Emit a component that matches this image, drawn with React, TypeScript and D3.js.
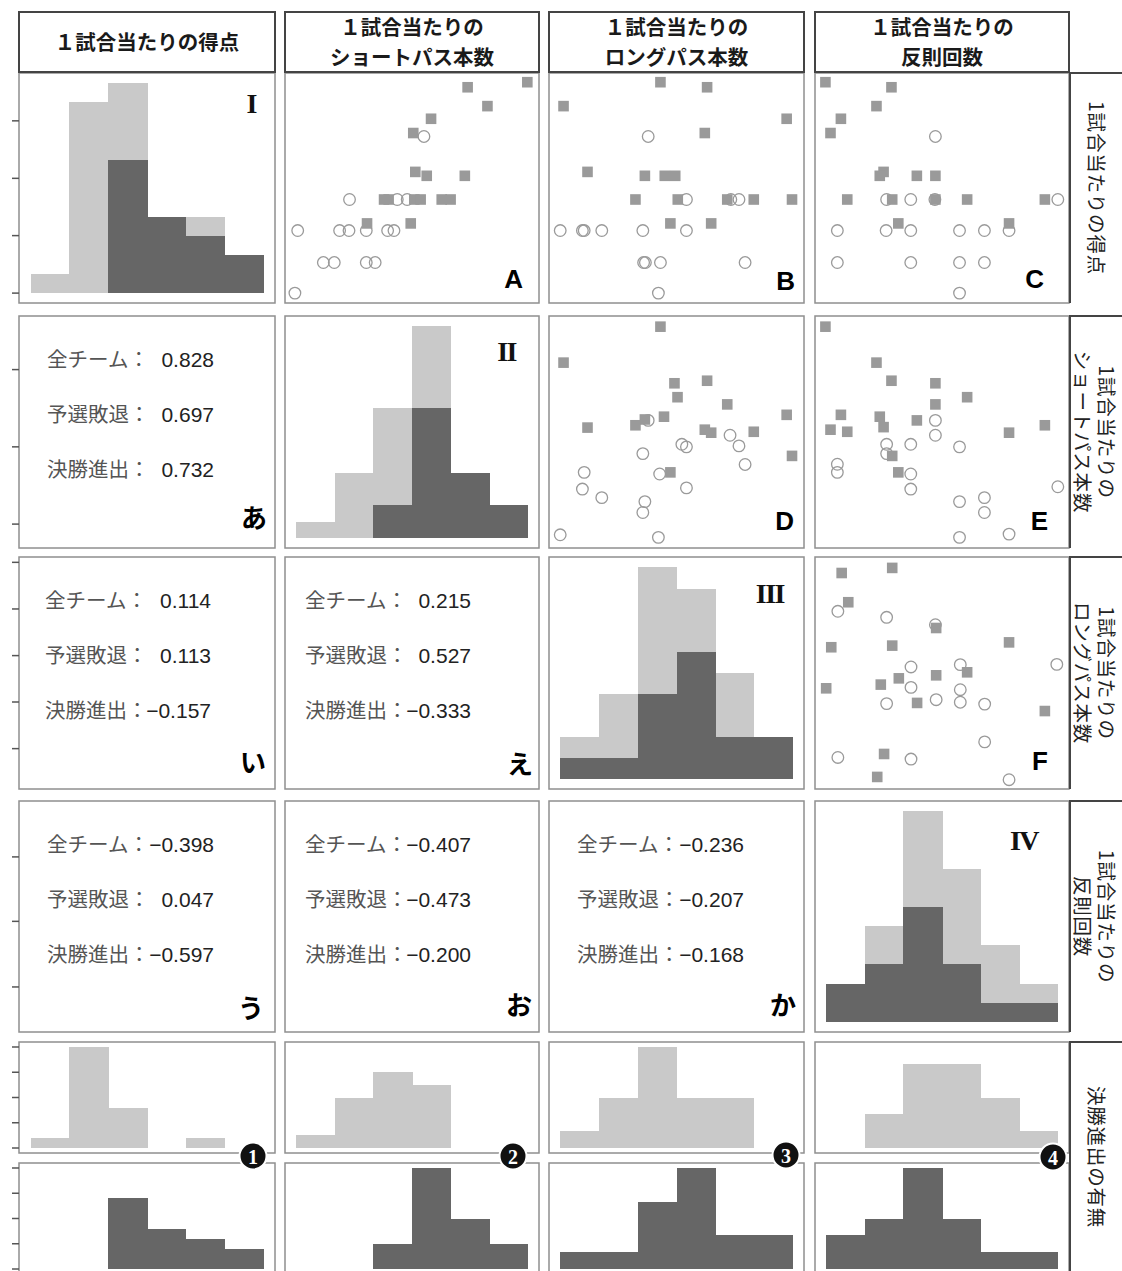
import React, { useEffect, useRef } from "react";
import * as d3 from "d3";

// ---- values ----
const headerLabels = [
  ["１試合当たりの得点"],
  ["１試合当たりの", "ショートパス本数"],
  ["１試合当たりの", "ロングパス本数"],
  ["１試合当たりの", "反則回数"],
];
const rowLabels = [
  ["1試合当たりの得点"],
  ["1試合当たりの", "ショートパス本数"],
  ["1試合当たりの", "ロングパス本数"],
  ["1試合当たりの", "反則回数"],
  ["決勝進出の有無"],
];
const romanLabels = ["I", "II", "III", "IV"];
const scatterLetters = ["A", "B", "C", "D", "E", "F"];
const corrLetters = ["あ", "い", "え", "う", "お", "か"];
const circledLabels = ["1", "2", "3", "4"];
const groupLabels = ["全チーム", "予選敗退", "決勝進出"];

// correlation: [all teams, eliminated, finals]
const corrValues = [
  [0.828, 0.697, 0.732],
  [0.114, 0.113, -0.157],
  [0.215, 0.527, -0.333],
  [-0.398, 0.047, -0.597],
  [-0.407, -0.473, -0.2],
  [-0.236, -0.207, -0.168],
];

// histogram counts per variable, 6 bins
const finalsCounts = [
  [0, 0, 7, 4, 3, 2],
  [0, 0, 2, 8, 4, 2],
  [1, 1, 4, 6, 2, 2],
  [2, 3, 6, 3, 1, 1],
];
const prelimCounts = [
  [1, 10, 4, 0, 1, 0],
  [1, 4, 6, 5, 0, 0],
  [1, 3, 6, 3, 3, 0],
  [0, 2, 5, 5, 3, 1],
];
const countTicks = [0, 2.5, 5, 7.5, 10];
// left ticks of rows 1-4, in % of the plotted range
const rowTicks = [
  [4.3, 29.3, 54.2, 79.2],
  [10.3, 43.6, 76.9],
  [17.4, 37.5, 57.5, 77.6, 97.7],
  [19.5, 47.9, 75.8],
];

// scatter points [x, y] in % of each variable's plotted range
const aFinals = [[95.4, 96], [71.9, 93.8], [79.7, 85.6], [57.5, 80.1], [50.5, 73.9], [51.3, 57], [55.8, 55.3], [70.8, 55.3], [39, 45], [40.8, 45], [50.9, 45], [53.4, 45], [61.7, 45], [65.2, 45], [32.3, 34.6], [49.5, 34.6]];
const aPrelim = [[54.7, 72.4], [25.4, 45], [44.2, 45], [48.1, 45], [5, 31.5], [21.5, 31.5], [25.2, 31.5], [32, 31.5], [40.4, 31.5], [42.9, 31.5], [15.1, 17.6], [19.4, 17.6], [32, 17.6], [35.5, 17.6], [3.9, 4.3]];
const bFinals = [[43.7, 96], [62, 93.8], [5.7, 85.6], [93.2, 80.1], [61.1, 73.9], [15.1, 57], [37.6, 55.3], [45.4, 55.3], [49.5, 55.3], [33.9, 45], [50.5, 45], [69.9, 45], [80.3, 45], [95.3, 45], [47.6, 34.6], [63.6, 34.6]];
const bPrelim = [[38.9, 72.4], [53.9, 45], [71.3, 45], [74.5, 45], [4.4, 31.5], [13.1, 31.5], [13.8, 31.5], [20.7, 31.5], [36.8, 31.5], [53.9, 31.5], [37.1, 17.6], [37.8, 17.6], [43.7, 17.6], [76.9, 17.6], [42.9, 4.3]];
const cFinals = [[4.1, 96], [30.1, 93.8], [24.2, 85.6], [10.2, 80.1], [6.1, 73.9], [27, 57], [25.5, 55.3], [40.1, 55.3], [47.4, 55.3], [12.7, 45], [30.4, 45], [47.4, 45], [59.9, 45], [90.5, 45], [32.8, 34.6], [76.4, 34.6]];
const cPrelim = [[47.4, 72.4], [28.2, 45], [37.7, 45], [47.2, 45], [95.6, 45], [8.8, 31.5], [28, 31.5], [37.7, 31.5], [56.9, 31.5], [66.7, 31.5], [76.4, 31.5], [8.8, 17.6], [37.7, 17.6], [56.9, 17.6], [66.7, 17.6], [56.9, 4.3]];
const dFinals = [[43.7, 95.4], [5.7, 79.9], [49.2, 71], [62, 72.1], [50.4, 65], [69.9, 61.9], [93.2, 57.4], [45.1, 56.6], [37.6, 55.4], [33.9, 52.9], [15.1, 51.9], [61.1, 51], [63.6, 49.7], [80.3, 50.1], [95.3, 39.7], [47.6, 32.6]];
const dPrelim = [[38.9, 55], [52.1, 44.7], [53.9, 43.6], [71, 48.6], [74.5, 44], [36.8, 40.7], [76.9, 36], [13.8, 32.6], [43.4, 31.9], [13.1, 25.4], [20.7, 21.7], [53.9, 25.9], [37.6, 20], [36.8, 15.3], [4.4, 5.7], [42.9, 4.6]];
const eFinals = [[4.1, 95.4], [24.2, 79.9], [30.1, 72.1], [47.4, 71], [59.9, 65], [47.4, 61.9], [10.2, 57.4], [25.5, 56.6], [40.1, 55], [27, 52.1], [6.1, 51], [12.7, 50.1], [90.5, 52.9], [76.4, 49.7], [30.4, 39.7], [32.8, 32.6]];
const ePrelim = [[47.4, 55], [47.4, 48.6], [28.2, 44.7], [37.7, 44.7], [56.9, 43.6], [28.2, 40.7], [8.8, 36.1], [8.8, 32.6], [37.7, 31.9], [37.7, 25.4], [95.6, 26.4], [66.7, 21.7], [56.9, 20], [66.7, 15.3], [56.9, 4.6], [76.4, 6]];
const fFinals = [[30.4, 95.3], [10.5, 93.1], [13.1, 80.5], [47.7, 69.4], [6.4, 61.1], [30.4, 61.8], [76.4, 63.2], [59.9, 50.3], [33, 47.7], [47.7, 49], [25.9, 45], [4.4, 43.4], [40.2, 37.1], [90.5, 33.6], [27.2, 15.1], [24.5, 5.2]];
const fPrelim = [[9, 76.6], [28.2, 74], [47.4, 70.8], [57.2, 53.6], [37.8, 52.6], [95.2, 53.7], [37.8, 43.8], [57.2, 42.8], [28.2, 36.8], [47.7, 38.5], [57.2, 37.4], [66.8, 36.6], [66.8, 20.3], [9, 13.6], [37.8, 12.9], [76.4, 4]];

// ---- layout ----
const W = 1122;
const H = 1271;
const colX = [[19, 275], [285, 539], [549, 804], [815, 1069]];
const rowY = [[73, 303], [316, 548], [557, 789], [801, 1032], [1042, 1153], [1163, 1274]];
const scatterCells = [[0, 1], [0, 2], [0, 3], [1, 2], [1, 3], [2, 3]];
const scatterPos = [[523, 288], [795, 290], [1044, 288], [794, 530], [1048, 530], [1048, 770]];
const corrCells = [[1, 0], [2, 0], [2, 1], [3, 0], [3, 1], [3, 2]];
const corrOffsets = [[28, 195], [26, 192], [20, 186], [28, 195], [20, 186], [28, 195]];
const corrLetterPos = [[267, 528], [266, 772], [533, 774], [264, 1018], [532, 1015], [796, 1015]];
const romanPos = [[256, 113], [516, 361], [784, 603], [1038, 850]];
const circledPos = [[253, 1156], [513, 1156], [786, 1155], [1053, 1157]];

const LIGHT = "#c9c9c9";
const DARK = "#666666";
const POINT = "#9a9a9a";

const App = () => {
  const svgRef = useRef(null);

  useEffect(() => {
    const svg = d3.select(svgRef.current);
    svg.selectAll("*").remove();

    const jp = '"Noto Sans CJK JP", sans-serif';
    const latin = '"Liberation Sans", Arial, sans-serif';
    const serif = '"Liberation Serif", "DejaVu Serif", serif';

    // percent scales for one cell
    const cellScales = (r, c) => {
      const [x0, x1] = colX[c];
      const [y0, y1] = rowY[r];
      return {
        x: d3.scaleLinear().domain([0, 100]).range([x0, x1]),
        y: d3.scaleLinear().domain([0, 100]).range([y1, y0]),
      };
    };
    const binScale = (c) => {
      const [x0, x1] = colX[c];
      const pad = (x1 - x0) * 0.045;
      return d3.scaleLinear().domain([0, 6]).range([x0 + pad, x1 - pad]);
    };

    // panel frames
    for (let r = 0; r < rowY.length; r++) {
      for (let c = 0; c < colX.length; c++) {
        svg.append("rect")
          .attr("x", colX[c][0]).attr("y", rowY[r][0])
          .attr("width", colX[c][1] - colX[c][0])
          .attr("height", rowY[r][1] - rowY[r][0])
          .attr("fill", "#fff")
          .attr("stroke", "#8f8f8f")
          .attr("stroke-width", 1.5);
      }
    }

    // column headers
    headerLabels.forEach((lines, c) => {
      const [x0, x1] = colX[c];
      svg.append("rect")
        .attr("x", x0).attr("y", 12).attr("width", x1 - x0).attr("height", 60)
        .attr("fill", "none").attr("stroke", "#444").attr("stroke-width", 2);
      const ys = lines.length === 1 ? [50] : [35, 65];
      lines.forEach((t, i) => {
        svg.append("text")
          .attr("x", (x0 + x1) / 2).attr("y", ys[i])
          .attr("text-anchor", "middle")
          .attr("font-family", jp).attr("font-weight", 700)
          .attr("font-size", 20.5).attr("fill", "#1a1a1a")
          .text(t);
      });
    });

    // right-hand row labels
    rowLabels.forEach((lines, r) => {
      const top = rowY[r][0];
      const bottom = r === 4 ? H : rowY[r][1];
      svg.append("path")
        .attr("d", `M${W},${top}H1070V${bottom}`)
        .attr("fill", "none").attr("stroke", "#444").attr("stroke-width", 2);
      const cy = r === 4 ? 1157 : (rowY[r][0] + rowY[r][1]) / 2;
      const xs = lines.length === 1 ? [1097] : [1107, 1083];
      lines.forEach((t, i) => {
        svg.append("text")
          .attr("transform", `translate(${xs[i]},${cy}) rotate(90)`)
          .attr("text-anchor", "middle")
          .attr("dominant-baseline", "central")
          .attr("font-family", jp).attr("font-size", 19.5)
          .attr("letter-spacing", 0.8)
          .attr("fill", "#222")
          .text(t);
      });
    });

    // left ticks
    rowTicks.forEach((ticks, r) => {
      const { y } = cellScales(r, 0);
      ticks.forEach((t) => {
        svg.append("line")
          .attr("x1", 12).attr("x2", 19).attr("y1", y(t)).attr("y2", y(t))
          .attr("stroke", "#555").attr("stroke-width", 1.5);
      });
    });
    [4, 5].forEach((r) => {
      const [y0, y1] = rowY[r];
      const h = y1 - y0;
      const maxC = d3.max([...finalsCounts[0], ...prelimCounts[0]]);
      const y = d3.scaleLinear().domain([0, maxC]).range([y1 - h * 0.045, y0 + h * 0.045]);
      countTicks.forEach((t) => {
        svg.append("line")
          .attr("x1", 12).attr("x2", 19).attr("y1", y(t)).attr("y2", y(t))
          .attr("stroke", "#555").attr("stroke-width", 1.5);
      });
    });

    // diagonal histograms (total light, finals dark)
    finalsCounts.forEach((fin, i) => {
      const total = fin.map((v, k) => v + prelimCounts[i][k]);
      const [y0, y1] = rowY[i];
      const h = y1 - y0;
      const x = binScale(i);
      const y = d3.scaleLinear().domain([0, d3.max(total)]).range([y1 - h * 0.044, y0 + h * 0.045]);
      const g = svg.append("g").attr("shape-rendering", "crispEdges");
      [[total, LIGHT], [fin, DARK]].forEach(([vals, col]) => {
        g.selectAll(null)
          .data(vals)
          .join("rect")
          .attr("x", (d, k) => x(k))
          .attr("width", x(1) - x(0) + 0.5)
          .attr("y", (d) => y(d))
          .attr("height", (d) => y(0) - y(d))
          .attr("fill", col);
      });
      svg.append("text")
        .attr("x", romanPos[i][0]).attr("y", romanPos[i][1])
        .attr("text-anchor", "end")
        .attr("font-family", serif).attr("font-weight", 700)
        .attr("font-size", 28).attr("letter-spacing", -1.5)
        .attr("fill", "#111")
        .text(romanLabels[i]);
    });

    // bottom histograms: eliminated (row 5) and finals (row 6)
    for (let c = 0; c < 4; c++) {
      const x = binScale(c);
      const maxC = d3.max([...finalsCounts[c], ...prelimCounts[c]]);
      [[4, prelimCounts[c], LIGHT], [5, finalsCounts[c], DARK]].forEach(([r, vals, col]) => {
        const [y0, y1] = rowY[r];
        const h = y1 - y0;
        const y = d3.scaleLinear().domain([0, maxC]).range([y1 - h * 0.045, y0 + h * 0.045]);
        svg.append("g").attr("shape-rendering", "crispEdges")
          .selectAll("rect")
          .data(vals)
          .join("rect")
          .attr("x", (d, k) => x(k))
          .attr("width", x(1) - x(0) + 0.5)
          .attr("y", (d) => y(d))
          .attr("height", (d) => y(0) - y(d))
          .attr("fill", col);
      });
      svg.append("circle")
        .attr("cx", circledPos[c][0]).attr("cy", circledPos[c][1]).attr("r", 13.5)
        .attr("fill", "#111").attr("stroke", "#fff").attr("stroke-width", 2);
      svg.append("text")
        .attr("x", circledPos[c][0]).attr("y", circledPos[c][1] + 1)
        .attr("text-anchor", "middle").attr("dominant-baseline", "central")
        .attr("font-family", serif).attr("font-weight", 700).attr("font-size", 20)
        .attr("fill", "#fff")
        .text(circledLabels[c]);
    }

    // scatter plots
    const scatterData = [
      [aFinals, aPrelim], [bFinals, bPrelim], [cFinals, cPrelim],
      [dFinals, dPrelim], [eFinals, ePrelim], [fFinals, fPrelim],
    ];
    scatterData.forEach(([fin, pre], i) => {
      const [r, c] = scatterCells[i];
      const { x, y } = cellScales(r, c);
      const g = svg.append("g");
      g.selectAll("circle")
        .data(pre)
        .join("circle")
        .attr("cx", (d) => x(d[0]))
        .attr("cy", (d) => y(d[1]))
        .attr("r", 5.8)
        .attr("fill", "none")
        .attr("stroke", POINT)
        .attr("stroke-width", 1.3);
      g.selectAll("rect")
        .data(fin)
        .join("rect")
        .attr("x", (d) => x(d[0]) - 5.3)
        .attr("y", (d) => y(d[1]) - 5.3)
        .attr("width", 10.6)
        .attr("height", 10.6)
        .attr("fill", POINT);
      svg.append("text")
        .attr("x", scatterPos[i][0]).attr("y", scatterPos[i][1])
        .attr("text-anchor", "end")
        .attr("font-family", latin).attr("font-weight", 700).attr("font-size", 26)
        .attr("fill", "#000")
        .text(scatterLetters[i]);
    });

    // correlation panels
    const fmt = d3.format(".3f");
    corrValues.forEach((vals, i) => {
      const [r, c] = corrCells[i];
      const x0 = colX[c][0];
      const y0 = rowY[r][0];
      vals.forEach((v, k) => {
        const by = y0 + 51 + k * 55;
        svg.append("text")
          .attr("x", x0 + corrOffsets[i][0]).attr("y", by)
          .attr("font-family", jp).attr("font-size", 20.5)
          .attr("fill", "#555")
          .text(groupLabels[k] + "：");
        svg.append("text")
          .attr("x", x0 + corrOffsets[i][1]).attr("y", by)
          .attr("text-anchor", "end")
          .attr("font-family", latin).attr("font-size", 21)
          .attr("fill", "#222")
          .text(fmt(v));
      });
      svg.append("text")
        .attr("x", corrLetterPos[i][0]).attr("y", corrLetterPos[i][1])
        .attr("text-anchor", "end")
        .attr("font-family", jp).attr("font-weight", 700).attr("font-size", 26)
        .attr("fill", "#000")
        .text(corrLetters[i]);
    });
  }, []);

  return (
    <svg
      ref={svgRef}
      width={W}
      height={H}
      style={{ position: "absolute", left: 0, top: 0, background: "#fff" }}
    />
  );
};

export default App;
